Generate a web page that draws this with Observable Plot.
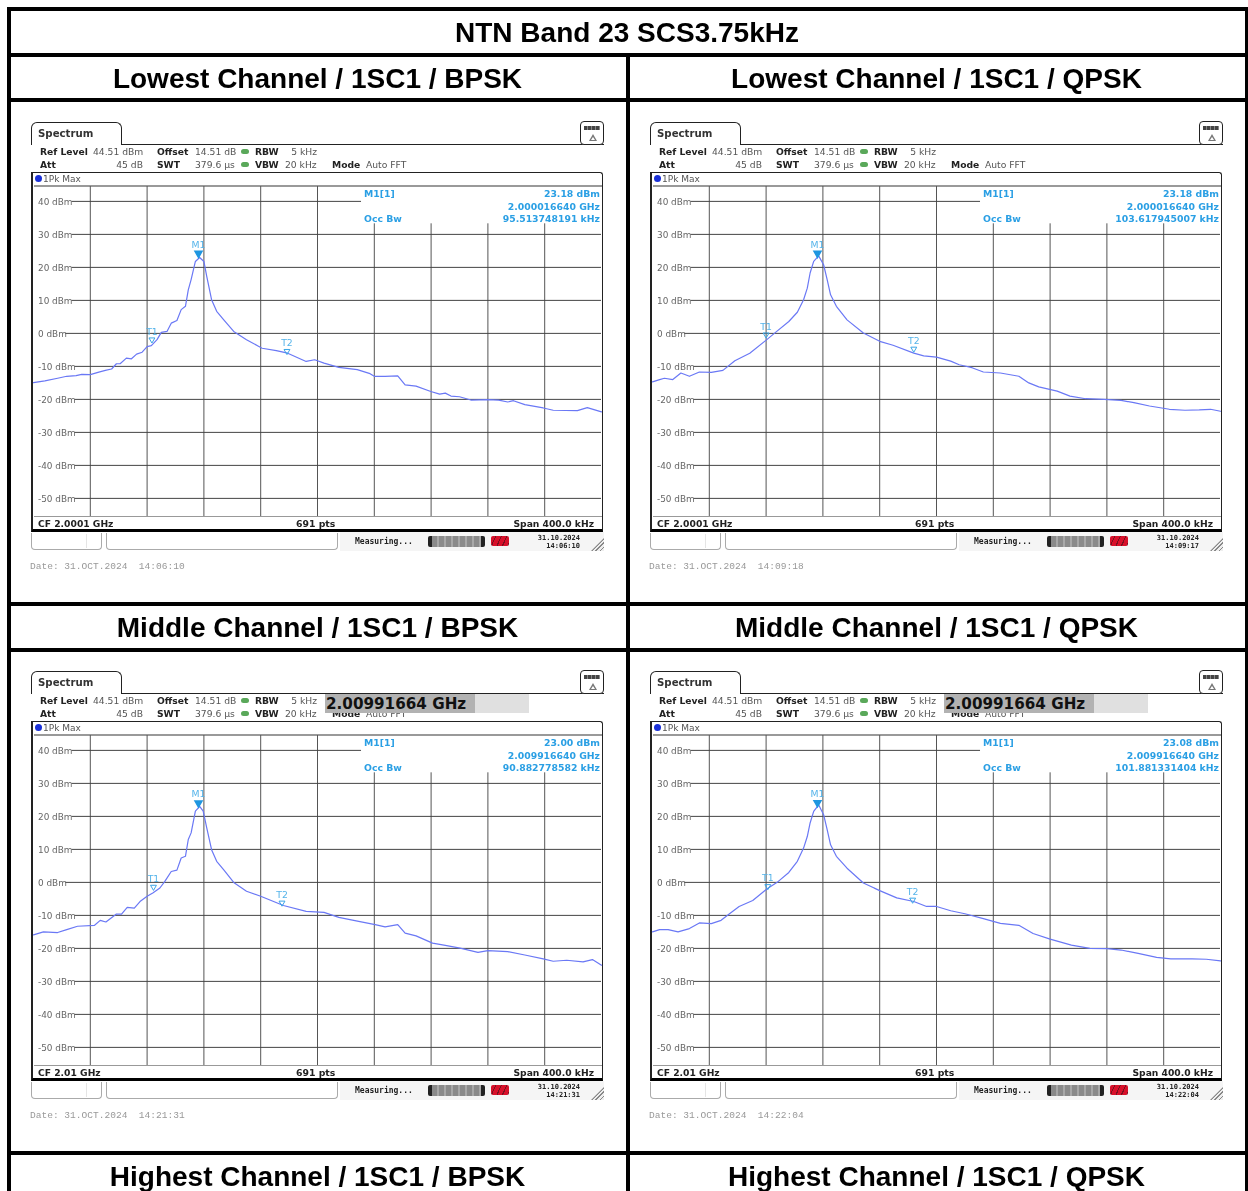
<!DOCTYPE html>
<html><head><meta charset="utf-8">
<script src="https://cdn.jsdelivr.net/npm/d3@7"></script>
<script src="https://cdn.jsdelivr.net/npm/@observablehq/plot@0.6"></script>
<style>
html,body{margin:0;padding:0;background:#fff;width:1248px;height:1191px;overflow:hidden}
#page{position:relative;width:1248px;height:1191px;overflow:hidden;background:#fff}
.bar{position:absolute;background:#000}
.hd{position:absolute;font:bold 28px "Liberation Sans",Arial,sans-serif;color:#000;text-align:center;line-height:30px;white-space:nowrap;filter:blur(.3px)}
.panel{position:absolute;width:620px;height:500px;filter:blur(.4px)}
.t{position:absolute;white-space:nowrap;line-height:12px;font-family:"DejaVu Sans",sans-serif;font-size:9.3px;color:#555}
.b{font-weight:bold;color:#222}
.m{color:#2a9fe4;font-weight:bold}
.box{position:absolute;box-sizing:border-box}
</style></head><body><div id="page"></div>
<script>
const titleText = "NTN Band 23 SCS3.75kHz";
const rowHeads = [
  ["Lowest Channel / 1SC1 / BPSK", "Lowest Channel / 1SC1 / QPSK"],
  ["Middle Channel / 1SC1 / BPSK", "Middle Channel / 1SC1 / QPSK"],
  ["Highest Channel / 1SC1 / BPSK", "Highest Channel / 1SC1 / QPSK"]
];

const freqTicks = [-160,-120,-80,-40,0,40,80,120,160];
const levelTicks = [40,30,20,10,0,-10,-20,-30,-40,-50];
const levelLabelEnd = [-173,-173,-173,-173,-177.5,-171,-171,-171,-171,-171];

const lowBpskKHz = [-200,-192,-183,-176.6,-170,-166,-160,-154.6,-149.4,-145,-141.6,-139,-134.6,-131,-127.4,-123.5,-120,-117,-113,-110,-106,-103,-99,-96,-93,-91,-89,-86,-83,-80,-78,-74.6,-71,-66,-59,-50,-41.6,-39,-29,-21,-8,-2,4.6,15,28,37,40,47.6,56.5,61.7,69.4,79.8,86,90,94,100,108,120,127.6,134,138,146,159,166,183,190,200];
const lowBpskDbm = [-14.9,-14.4,-13.6,-13,-12.8,-12.4,-12.5,-11.8,-11.2,-10.8,-9.2,-9.2,-7.5,-7.7,-6.3,-5.7,-4,-3.7,-1.9,0.3,0.6,3.1,3.9,7.2,8.2,13.2,16.3,21.8,23,21.8,17.3,10.2,6.7,4.1,0.6,-1.9,-3.9,-4.5,-5.2,-6,-8.5,-8,-9,-10.3,-11,-12.2,-13,-13,-12.9,-15.6,-16,-17.6,-18.4,-18.1,-19,-19.2,-20.2,-20.1,-20.2,-20.8,-20.4,-21.6,-22.6,-23.3,-23.4,-22.5,-23.8];

const lowQpskKHz = [-200,-195,-191.6,-185.7,-180,-174,-167,-158.6,-150.4,-142,-131.5,-119.5,-112.5,-104,-98,-93.6,-91,-89,-86.5,-83,-79.5,-77,-74.6,-70.5,-63,-51.5,-40,-30.6,-16,-9,0,10,16,25,33,45,58,65,72,85,94,105,118,130,139,150,164,175,185,193,200];
const lowQpskDbm = [-14.7,-14,-13.6,-14,-12,-13,-11.7,-11.8,-11.2,-8.3,-6,-1.9,0.6,3.6,6.4,10.2,13.7,18.3,21.8,23.5,20.8,16.3,11.7,8.2,4.1,0.1,-2.4,-3.6,-6,-6.8,-7.2,-8.4,-9.5,-10.4,-11.7,-12,-13,-15,-16.2,-17.5,-19,-19.8,-20,-20.3,-21,-22,-23,-23.3,-23.2,-23,-23.6];

const midBpskKHz = [-200,-193,-183,-176.6,-169,-157,-153,-149,-141.6,-138,-134,-129,-125,-120,-116,-111,-107.5,-103,-99,-96,-93,-91,-89,-86,-83,-80.5,-78,-74.6,-71,-66,-59,-50,-40,-24,-8,4.6,15,29,40.6,47.6,56.5,61.7,69.4,81,90,100.4,113,120,134,146,159,166,175.5,187,193.6,200];
const midBpskDbm = [-15.9,-15,-15.2,-14.3,-13.3,-13,-11.5,-12,-9.6,-9.6,-7.6,-7.8,-5.8,-4.2,-3.2,-1.7,0.3,3.3,3.7,7.4,7.9,13,15,21.6,23,21.6,16.5,9.9,6.4,3.8,0,-2.7,-4.2,-7,-8.8,-9.1,-10.6,-11.8,-12.8,-13.5,-12.8,-15.4,-16.2,-18.4,-19.1,-19.9,-21.2,-20.7,-21,-22,-23.2,-23.9,-23.6,-24.1,-23.4,-25.1];

const midQpskKHz = [-200,-195,-189,-182,-174,-167,-158.6,-151.7,-146,-139,-129.4,-119.5,-111.4,-104,-98,-93.6,-91,-89,-86.5,-83,-79.5,-77,-74.6,-70.5,-63,-51.5,-40,-28,-16,-7,0,10,20,33,45,58,68,80,95,108,120,130,142,155,165,180,190,200];
const midQpskDbm = [-15,-14.3,-14.3,-15,-14,-12.3,-12.5,-11.5,-9.6,-7.3,-5.5,-2,0.3,3,6.4,10.4,13.9,18,21.5,23.5,20.5,16,11.4,7.9,4.3,-0.2,-2.5,-4.7,-5.8,-7.3,-7.3,-8.6,-9.5,-11,-12.4,-13,-15.5,-17.2,-19,-20,-20.1,-20.5,-21.5,-22.7,-23.2,-23.2,-23.3,-23.8];

const peakKHz = [-83.8,-83.8,-83.8,-83.8];
const peakDbm = [23.18,23.18,23.0,23.08];
const t1KHz = [-116.6,-120,-115.5,-118.8];
const t1Dbm = [-2.5,-1,-2,-1.8];
const t2KHz = [-21.5,-16,-25,-16.8];
const t2Dbm = [-6,-5.3,-6.8,-5.9];

const centerLabels = ["CF 2.0001 GHz","CF 2.0001 GHz","CF 2.01 GHz","CF 2.01 GHz"];
const markerLevels = ["23.18 dBm","23.18 dBm","23.00 dBm","23.08 dBm"];
const markerFreqs = ["2.000016640 GHz","2.000016640 GHz","2.009916640 GHz","2.009916640 GHz"];
const occBandwidths = ["95.513748191 kHz","103.617945007 kHz","90.882778582 kHz","101.881331404 kHz"];
const statusTimes = ["14:06:10","14:09:17","14:21:31","14:22:04"];
const dateTimes = ["14:06:10","14:09:18","14:21:31","14:22:04"];
const traces = [[lowBpskKHz,lowBpskDbm],[lowQpskKHz,lowQpskDbm],[midBpskKHz,midBpskDbm],[midQpskKHz,midQpskDbm]];

const page = document.getElementById("page");
function el(parent, cls, css, html){
  const d = document.createElement("div");
  d.className = cls; Object.assign(d.style, css);
  if (html != null) d.innerHTML = html;
  parent.appendChild(d); return d;
}
[[7,4],[53,4],[98,4],[602,4],[648,4],[1151,4]].forEach(([y,h]) => el(page,"bar",{left:"7px",width:"1241px",top:y+"px",height:h+"px"}));
el(page,"bar",{left:"7px",top:"7px",width:"4px",height:"1184px"});
el(page,"bar",{left:"1244.5px",top:"7px",width:"3.5px",height:"1184px"});
el(page,"bar",{left:"625.5px",top:"53px",width:"4px",height:"1138px"});

function hd(text,cx,cy){ el(page,"hd",{left:(cx-400)+"px",width:"800px",top:(cy-15)+"px"},text); }
hd(titleText,627,33);
[79,628,1177].forEach((y,r) => { hd(rowHeads[r][0],317.5,y); hd(rowHeads[r][1],936.5,y); });

function lab(p,x,y,text,cls,opt={}){
  const css = {top:(y-6)+"px"};
  if (opt.right!=null){ css.right=(620-opt.right)+"px"; } else css.left=x+"px";
  if (opt.size) css.fontSize=opt.size+"px";
  if (opt.color) css.color=opt.color;
  if (opt.font) css.fontFamily=opt.font;
  return el(p,"t "+(cls||""),css,text);
}

function drawPanel(i){
  const col = i%2, row = i>>1;
  const p = el(page,"panel",{left:(col*619)+"px",top:(row*549)+"px"});
  // Tab and top rule
  el(p,"box",{left:"31px",top:"122px",width:"91px",height:"23px",border:"1.5px solid #222",borderBottom:"none",borderRadius:"6px 6px 0 0"});
  el(p,"box",{left:"122px",top:"143.5px",width:"482px",height:"1.5px",background:"#222"});
  el(p,"box",{left:"580px",top:"121px",width:"24px",height:"24px",border:"1.5px solid #222",borderRadius:"4px",background:"#fff"});
  el(p,"box",{left:"584px",top:"126px",width:"16px",height:"4px",background:"repeating-linear-gradient(90deg,#444 0 3px,#888 3px 4px)"});
  el(p,"box",{left:"588.5px",top:"134px",width:"0",height:"0",borderLeft:"4px solid transparent",borderRight:"4px solid transparent",borderBottom:"7px solid #777"});
  el(p,"box",{left:"590.5px",top:"137px",width:"0",height:"0",borderLeft:"2px solid transparent",borderRight:"2px solid transparent",borderBottom:"3px solid #fff"});
  lab(p,38,133.5,"Spectrum","b",{size:10.2,color:"#333"});
  // Settings
  lab(p,40,151.5,"Ref Level","b",{size:9.2});
  lab(p,93,151.5,"44.51 dBm","",{size:9.2});
  lab(p,157,151.5,"Offset","b",{size:9.2});
  lab(p,195,151.5,"14.51 dB","",{size:9.2});
  lab(p,255,151.5,"RBW","b",{size:9.2});
  lab(p,0,151.5,"5 kHz","",{right:317,size:9.2});
  lab(p,40,164.5,"Att","b",{size:9.2});
  lab(p,0,164.5,"45 dB","",{right:143,size:9.2});
  lab(p,157,164.5,"SWT","b",{size:9.2});
  lab(p,195,164.5,"379.6 µs","",{size:9.2});
  lab(p,255,164.5,"VBW","b",{size:9.2});
  lab(p,285,164.5,"20 kHz","",{size:9.2});
  lab(p,332,165,"Mode","b",{size:9.2});
  lab(p,366,165,"Auto FFT","",{size:9.2});
  [151.5,164.5].forEach(y => el(p,"box",{left:"241px",top:(y-2.5)+"px",width:"8px",height:"5px",borderRadius:"3px",background:"#5aa85a"}));
  // Frame
  el(p,"box",{left:"31px",top:"171.5px",width:"572px",height:"360px",borderTop:"1.5px solid #222",borderRight:"1.5px solid #222",borderLeft:"2.5px solid #222",borderBottom:"3px solid #000",borderRadius:"0 3px 0 0"});
  el(p,"box",{left:"34px",top:"185px",width:"568px",height:"1.5px",background:"#999"});
  el(p,"box",{left:"34px",top:"516px",width:"568px",height:"1px",background:"#999"});
  el(p,"box",{left:"35px",top:"175px",width:"7px",height:"7px",borderRadius:"50%",background:"#1a30d8"});
  lab(p,43,178.5,"1Pk Max","",{size:9});
  // Plot
  const [xs,ys] = traces[i];
  const trace = xs.map((x,k)=>({x,y:ys[k]}));
  const chart = Plot.plot({
    width:568,height:330,margin:0,
    style:{background:"transparent",overflow:"visible"},
    x:{domain:[-200,200],axis:null},
    y:{domain:[-55.49,44.51],axis:null},
    marks:[
      Plot.ruleX(freqTicks,{x:d=>d,y1:-55.49,y2:d=>d>=40?33.2:44.51,stroke:"#555",strokeWidth:1}),
      Plot.ruleY(levelTicks,{y:d=>d,x1:(d,k)=>levelLabelEnd[k],x2:d=>d===40?31:200,stroke:"#444",strokeWidth:1}),
      Plot.text(levelTicks,{y:d=>d,x:-200,text:d=>d+" dBm",textAnchor:"start",dx:4.5,dy:1,fill:"#666",fontSize:8.9,fontFamily:"DejaVu Sans"}),
      Plot.line(trace,{x:"x",y:"y",stroke:"#6a78f5",strokeWidth:1.2}),
      Plot.dot([{x:peakKHz[i],y:peakDbm[i]}],{x:"x",y:"y",symbol:"triangle",rotate:180,r:2.6,dy:-3.5,fill:"#1e96e0",stroke:"#1e96e0"}),
      Plot.dot([{x:t1KHz[i],y:t1Dbm[i]},{x:t2KHz[i],y:t2Dbm[i]}],{x:"x",y:"y",symbol:"triangle",rotate:180,r:2.2,dy:-2,fill:"none",stroke:"#3aa6e6",strokeWidth:1}),
      Plot.text([{x:peakKHz[i],y:peakDbm[i],t:"M1"}],{x:"x",y:"y",text:"t",dy:-12,fill:"#55b4ea",fontSize:9.3,fontFamily:"DejaVu Sans"}),
      Plot.text([{x:t1KHz[i],y:t1Dbm[i],t:"T1"},{x:t2KHz[i],y:t2Dbm[i],t:"T2"}],{x:"x",y:"y",text:"t",dy:-10,fill:"#55b4ea",fontSize:9.3,fontFamily:"DejaVu Sans"})
    ]
  });
  chart.style.position="absolute"; chart.style.left="33px"; chart.style.top="186px";
  p.appendChild(chart);
  // Marker table
  lab(p,364,193.5,"M1[1]","m",{size:9.3});
  lab(p,364,218.5,"Occ Bw","m",{size:9.3});
  lab(p,0,193.5,markerLevels[i],"m",{right:600,size:9.3});
  lab(p,0,206.5,markerFreqs[i],"m",{right:600,size:9.3});
  lab(p,0,219,occBandwidths[i],"m",{right:600,size:9.3});
  // Footer
  lab(p,38,523.5,centerLabels[i],"b",{size:9.2});
  lab(p,296,523.5,"691 pts","b",{size:9.3});
  lab(p,0,523.5,"Span 400.0 kHz","b",{right:594,size:9.2});
  // Status bar
  el(p,"box",{left:"340px",top:"531.5px",width:"264px",height:"19px",background:"#f5f5f5"});
  el(p,"box",{left:"31px",top:"533px",width:"71px",height:"17px",border:"1px solid #aaa",borderTop:"none",borderRadius:"0 0 4px 4px",background:"#fff"});
  el(p,"box",{left:"86px",top:"534px",width:"1px",height:"14px",background:"#e5e5e5"});
  el(p,"box",{left:"106px",top:"533px",width:"232px",height:"17px",border:"1px solid #aaa",borderTop:"none",borderRadius:"0 0 4px 4px",background:"#fff"});
  lab(p,355,541.5,"Measuring...","b",{size:8,font:"'DejaVu Sans Mono',monospace"});
  el(p,"box",{left:"428px",top:"536px",width:"57px",height:"11px",background:"repeating-linear-gradient(90deg,#8a8a8a 0 5px,#a8a8a8 5px 7px)",borderLeft:"4px solid #222",borderRight:"4px solid #222",borderRadius:"2px"});
  el(p,"box",{left:"491px",top:"536px",width:"18px",height:"10px",background:"repeating-linear-gradient(115deg,#d8102a 0 4px,#7a1020 4px 5px)",borderRadius:"2px"});
  lab(p,0,538,"31.10.2024","b",{right:580,size:7,font:"'DejaVu Sans Mono',monospace"});
  lab(p,0,546,statusTimes[i],"b",{right:580,size:7,font:"'DejaVu Sans Mono',monospace"});
  el(p,"box",{left:"591px",top:"538px",width:"13px",height:"13px",clipPath:"polygon(100% 0,100% 100%,0 100%)",background:"repeating-linear-gradient(135deg,#888 0 1px,#eee 1px 3px)"});
  lab(p,30,567,"Date: 31.OCT.2024&nbsp;&nbsp;"+dateTimes[i],"",{size:9.55,color:"#999",font:"'Liberation Mono',monospace"});
  // Frequency entry overlay on the middle row
  if (row===1){
    el(p,"box",{left:"325px",top:"145px",width:"204px",height:"19px",background:"#e0e0e0"});
    el(p,"box",{left:"325px",top:"145px",width:"150px",height:"19px",background:"#b2b2b2"});
    el(p,"t b",{left:"326px",top:"146px",lineHeight:"18px",fontSize:"15.2px",color:"#111"},"2.00991664 GHz");
  }
}
[0,1,2,3].forEach(drawPanel);
</script></body></html>
